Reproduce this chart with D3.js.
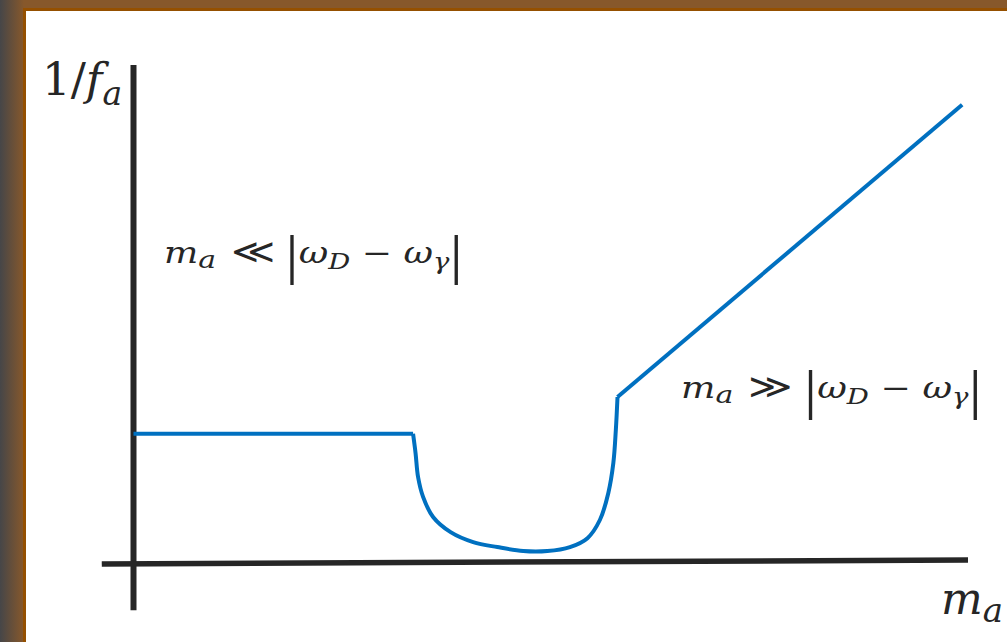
<!DOCTYPE html>
<html>
<head>
<meta charset="utf-8">
<script src="https://cdn.jsdelivr.net/npm/d3@7"></script>
<style>
  html, body { margin: 0; padding: 0; background: #fff; }
  svg { display: block; }
</style>
</head>
<body>
<svg id="chart" width="1007" height="642"></svg>
<script>
// Schematic: inverse axion coupling 1/f_a versus axion mass m_a (arbitrary units)
const plateau = [[0, 25.8], [33.5, 25.8]];
const dip = [
  [33.5, 25.8], [33.8, 21.9], [34.1, 17.1], [34.7, 13.1], [35.9, 9.05],
  [38.0, 6.0], [40.7, 4.0], [43.6, 3.0], [46.7, 2.2], [49.6, 2.2],
  [52.3, 3.0], [54.4, 4.8], [55.9, 8.5], [56.9, 13.9], [57.5, 19.9],
  [57.8, 26.6], [58.0, 33.2]
];
const rise = [[58.0, 33.2], [99.3, 92.0]];
const xAxisEnds = [[-3.8, -0.4], [100, 0.4]];
const yAxisEnds = [[0, -9.7], [0, 100]];

const svg = d3.select("#chart");
const W = 1007, H = 642;

// Frame around the panel
const defs = svg.append("defs");
const grad = defs.append("linearGradient").attr("id", "edge")
  .attr("x1", 0).attr("x2", 1).attr("y1", 0).attr("y2", 0);
grad.append("stop").attr("offset", "0%").attr("stop-color", "#464648");
grad.append("stop").attr("offset", "100%").attr("stop-color", "#87582b");
svg.append("rect").attr("width", W).attr("height", H).attr("fill", "#87582b");
svg.append("rect").attr("width", 24).attr("height", H).attr("fill", "url(#edge)");
svg.append("rect").attr("x", 23).attr("y", 8).attr("width", W - 23).attr("height", H - 8).attr("fill", "#955000");
svg.append("rect").attr("x", 26).attr("y", 11).attr("width", W - 26).attr("height", H - 11).attr("fill", "#ffffff");

const x = d3.scaleLinear().domain([0, 100]).range([133.5, 968]);
const y = d3.scaleLinear().domain([0, 100]).range([562, 65]);

const lin = d3.line().x(d => x(d[0])).y(d => y(d[1]));
const smooth = d3.line().x(d => x(d[0])).y(d => y(d[1])).curve(d3.curveCatmullRom.alpha(0.5));

// Axes
svg.append("path").attr("d", lin(xAxisEnds))
  .attr("stroke", "#262626").attr("stroke-width", 5.5).attr("fill", "none");
svg.append("path").attr("d", lin(yAxisEnds))
  .attr("stroke", "#262626").attr("stroke-width", 6).attr("fill", "none");

// Curve
const blue = "#0070c0";
[[plateau, lin], [dip, smooth], [rise, lin]].forEach(([pts, gen]) => {
  svg.append("path").attr("d", gen(pts))
    .attr("stroke", blue).attr("stroke-width", 4).attr("fill", "none")
    .attr("stroke-linejoin", "round").attr("stroke-linecap", "butt");
});

const font = "'DejaVu Serif', serif";
const barFont = "'Liberation Serif', serif";
const ink = "#262626";

// Axis titles
const yt = svg.append("text").attr("x", 42).attr("y", 95)
  .attr("font-family", font).attr("font-size", 45).attr("fill", ink);
yt.append("tspan").text("1/");
yt.append("tspan").attr("font-style", "italic").text("f");
yt.append("tspan").attr("font-style", "italic").attr("font-size", 33).attr("dy", 10).text("a");

const xt = svg.append("text").attr("x", 941).attr("y", 614)
  .attr("font-family", font).attr("font-size", 44).attr("fill", ink);
xt.append("tspan").attr("font-style", "italic").text("m");
xt.append("tspan").attr("font-style", "italic").attr("font-size", 34).attr("dy", 8).text("a");

// Regime annotations, stretched horizontally to the given width
function regime(px, py, rel, width) {
  const g = svg.append("g").attr("transform", `translate(${px},${py})`);
  const t = g.append("text").attr("x", 0).attr("y", 0)
    .attr("font-family", font).attr("font-size", 29).attr("fill", ink);
  t.append("tspan").attr("font-style", "italic").text("m");
  t.append("tspan").attr("font-style", "italic").attr("font-size", 24).attr("dy", 5).text("a");
  t.append("tspan").attr("dy", -5).attr("dx", 12).attr("font-size", 34).text(rel);
  t.append("tspan").attr("font-family", barFont).attr("font-size", 54).attr("dy", 10).attr("dx", 8).text("|");
  t.append("tspan").attr("dy", -10).attr("font-style", "italic").text("ω");
  t.append("tspan").attr("font-style", "italic").attr("font-size", 22).attr("dy", 6).text("D");
  t.append("tspan").attr("dy", -6).text(" − ");
  t.append("tspan").attr("font-style", "italic").text("ω");
  t.append("tspan").attr("font-style", "italic").attr("font-size", 22).attr("dy", 6).text("γ");
  t.append("tspan").attr("font-family", barFont).attr("font-size", 54).attr("dy", 4).text("|");
  const fit = () => {
    const w = t.node().getBBox().width;
    t.attr("transform", `scale(${width / w},1)`);
  };
  fit();
  if (document.fonts && document.fonts.ready) document.fonts.ready.then(fit);
  return g;
}
regime(164, 263, "≪", 299);
regime(681, 398, "≫", 301);
</script>
</body>
</html>
